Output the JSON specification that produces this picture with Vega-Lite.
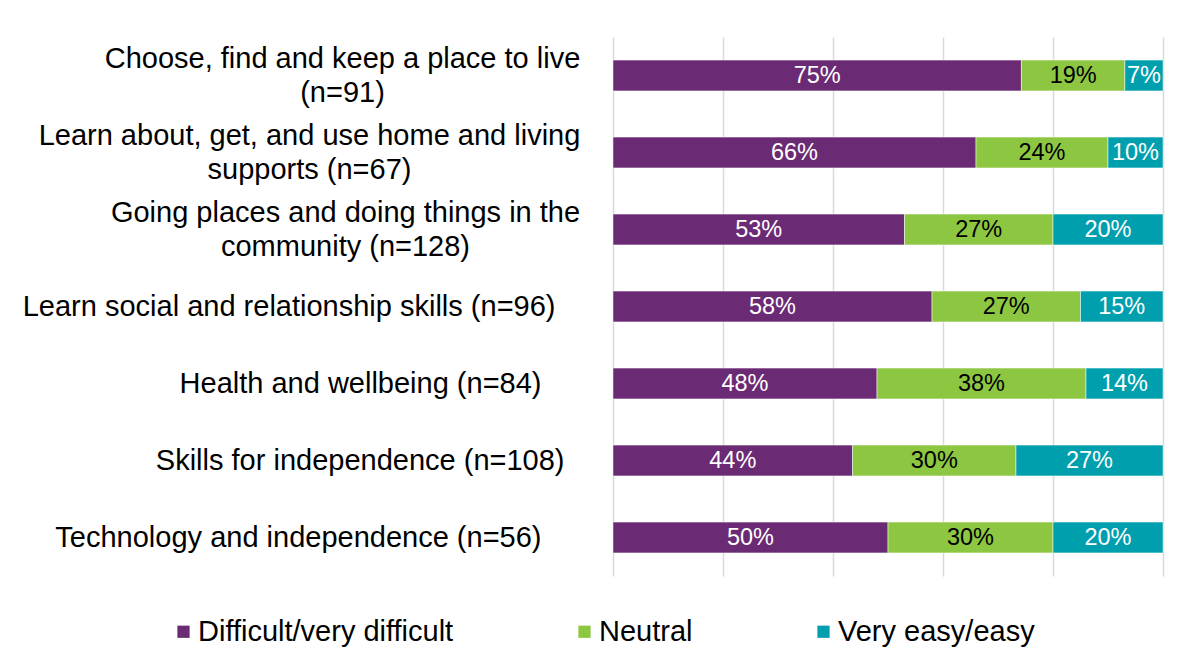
{
  "$schema": "https://vega.github.io/schema/vega-lite/v6.json",
  "autosize": "none",
  "width": 550,
  "height": 539,
  "padding": {"left": 613, "top": 37, "right": 21, "bottom": 88},
  "background": "white",
  "config": {
    "font": "Liberation Sans",
    "view": {"stroke": null}
  },
  "data": {
    "values": [
      {"cat": "Choose, find and keep a place to live|(n=91)", "s": "Difficult/very difficult", "v": 75},
      {"cat": "Choose, find and keep a place to live|(n=91)", "s": "Neutral", "v": 19},
      {"cat": "Choose, find and keep a place to live|(n=91)", "s": "Very easy/easy", "v": 7},
      {"cat": "Learn about, get, and use home and living|supports (n=67)", "s": "Difficult/very difficult", "v": 66},
      {"cat": "Learn about, get, and use home and living|supports (n=67)", "s": "Neutral", "v": 24},
      {"cat": "Learn about, get, and use home and living|supports (n=67)", "s": "Very easy/easy", "v": 10},
      {"cat": "Going places and doing things in the|community (n=128)", "s": "Difficult/very difficult", "v": 53},
      {"cat": "Going places and doing things in the|community (n=128)", "s": "Neutral", "v": 27},
      {"cat": "Going places and doing things in the|community (n=128)", "s": "Very easy/easy", "v": 20},
      {"cat": "Learn social and relationship skills (n=96)", "s": "Difficult/very difficult", "v": 58},
      {"cat": "Learn social and relationship skills (n=96)", "s": "Neutral", "v": 27},
      {"cat": "Learn social and relationship skills (n=96)", "s": "Very easy/easy", "v": 15},
      {"cat": "Health and wellbeing (n=84)", "s": "Difficult/very difficult", "v": 48},
      {"cat": "Health and wellbeing (n=84)", "s": "Neutral", "v": 38},
      {"cat": "Health and wellbeing (n=84)", "s": "Very easy/easy", "v": 14},
      {"cat": "Skills for independence (n=108)", "s": "Difficult/very difficult", "v": 44},
      {"cat": "Skills for independence (n=108)", "s": "Neutral", "v": 30},
      {"cat": "Skills for independence (n=108)", "s": "Very easy/easy", "v": 27},
      {"cat": "Technology and independence (n=56)", "s": "Difficult/very difficult", "v": 50},
      {"cat": "Technology and independence (n=56)", "s": "Neutral", "v": 30},
      {"cat": "Technology and independence (n=56)", "s": "Very easy/easy", "v": 20}
    ]
  },
  "transform": [
    {"stack": "v", "groupby": ["cat"], "offset": "normalize", "sort": [{"field": "s", "order": "ascending"}], "as": ["v0", "v1"]},
    {"calculate": "(datum.v0 + datum.v1) / 2", "as": "mid"},
    {"calculate": "datum.v + '%'", "as": "lbl"}
  ],
  "encoding": {
    "y": {
      "field": "cat",
      "type": "nominal",
      "sort": null,
      "scale": {"paddingInner": 0.6, "paddingOuter": 0.3},
      "axis": {
        "title": null,
        "domain": false,
        "ticks": false,
        "labelPadding": {
          "condition": [
            {"test": "indexof(datum.value, 'Choose') >= 0", "value": 271},
            {"test": "indexof(datum.value, 'Learn about') >= 0", "value": 304},
            {"test": "indexof(datum.value, 'Going') >= 0", "value": 268},
            {"test": "indexof(datum.value, 'Learn social') >= 0", "value": 58},
            {"test": "indexof(datum.value, 'Skills') >= 0", "value": 49}
          ],
          "value": 72
        },
        "labelOffset": {"condition": {"test": "indexof(datum.value, '|') >= 0", "value": -17}, "value": 0},
        "labelFontSize": 29,
        "labelColor": "#000000",
        "labelLimit": 800,
        "labelLineHeight": 34,
        "labelAlign": {"condition": {"test": "indexof(datum.value, '|') >= 0", "value": "center"}, "value": "right"},
        "labelExpr": "split(datum.label, '|')"
      }
    }
  },
  "layer": [
    {
      "mark": {"type": "bar", "stroke": "white", "strokeWidth": 0.5},
      "encoding": {
        "x": {
          "field": "v0",
          "type": "quantitative",
          "scale": {"domain": [0, 1], "nice": false},
          "axis": {
            "title": null,
            "labels": false,
            "ticks": false,
            "domain": false,
            "grid": true,
            "values": [0, 0.2, 0.4, 0.6, 0.8, 1],
            "gridColor": "#d9d9d9",
            "gridWidth": 1.5,
            "gridOpacity": 1
          }
        },
        "x2": {"field": "v1"},
        "color": {
          "field": "s",
          "type": "nominal",
          "scale": {
            "domain": ["Difficult/very difficult", "Neutral", "Very easy/easy"],
            "range": ["#6b2a74", "#8dc641", "#009fae"]
          },
          "legend": {
            "title": null,
            "orient": "none",
            "direction": "horizontal",
            "legendX": -444,
            "legendY": 580,
            "symbolType": "square",
            "symbolSize": 150,
            "symbolStrokeWidth": 0,
            "symbolOpacity": 1,
            "labelFontSize": 29,
            "labelColor": "#000000",
            "labelOffset": 0,
            "labelLimit": 400,
            "columnPadding": 116
          }
        }
      }
    },
    {
      "mark": {"type": "text", "fontSize": 23.5, "baseline": "middle", "align": "center"},
      "encoding": {
        "x": {"field": "mid", "type": "quantitative"},
        "text": {"field": "lbl", "type": "nominal"},
        "color": {
          "condition": {"test": "datum.s === 'Neutral'", "value": "#000000"},
          "value": "#ffffff"
        }
      }
    }
  ]
}
